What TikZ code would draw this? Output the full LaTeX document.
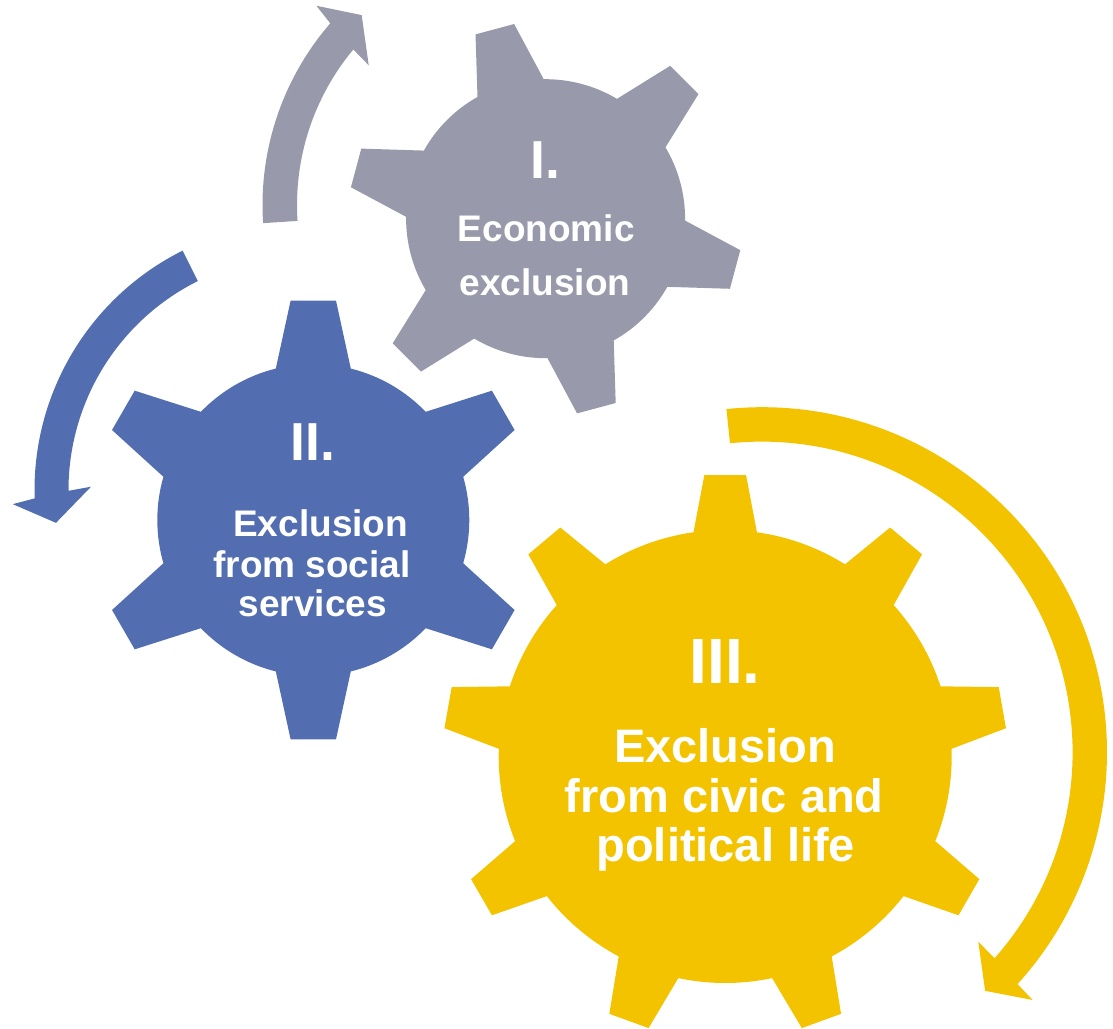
\documentclass[tikz,border=0pt]{standalone}
\usepackage{fontspec}
\setmainfont{Liberation Sans}
\definecolor{gearI}{RGB}{153,153,172}
\definecolor{gearII}{RGB}{82,110,176}
\definecolor{gearIII}{RGB}{243,195,0}
\tikzset{
  num/.style={text=white, inner sep=0pt, anchor=base, font=\bfseries\fontsize{#1}{#1}\selectfont},
  txt/.style={text=white, inner sep=0pt, anchor=base, font=\bfseries\fontsize{#1}{#1}\selectfont}
}
% #1 colour, #2 cx, #3 cy (pixels, y down), #4 teeth, #5 first tooth angle,
% #6 body radius, #7 tip corner radius, #8 tip half angle, #9 base half angle
\newcommand{\gearshape}[9]{%
  \begin{scope}[shift={(#2,-#3)}]
    \fill[#1] (#5-#9:#6)
      foreach \k [evaluate=\k as \t using #5+(\k-1)*360/#4] in {1,...,#4} {
        -- (\t-#8:#7) -- (\t+#8:#7) -- (\t+#9:#6)
        arc[start angle=\t+#9, end angle=\t+360/#4-#9, radius=#6]
      } -- cycle;
  \end{scope}}
\begin{document}
\begin{tikzpicture}[x=1pt,y=1pt]
\path[use as bounding box] (0,0) rectangle (1113,-1028);

% gears
\gearshape{gearI}{545.6}{218.7}{6}{105}{139.5}{197.2}{5.82}{14.23}
\gearshape{gearII}{313.3}{520}{6}{90}{156}{220.5}{5.91}{13.91}
\gearshape{gearIII}{725.2}{756.5}{9}{90}{226.5}{282.2}{4.24}{8.05}

% circular arrows
\begin{scope}[shift={(540,-205)}]
  \fill[gearI] (183.75:277.5) arc[start angle=183.75, end angle=139.1, radius=277.5]
    -- (138.3:299.5) -- (133.2:260.5) -- (140.8:221) -- (140.2:243)
    arc[start angle=140.2, end angle=183.75, radius=243] -- cycle;
\end{scope}
\begin{scope}[shift={(302,-490)}]
  \fill[gearII] (116.5:267.5) arc[start angle=116.5, end angle=181.8, radius=267.5]
    -- (182.8:289.6) -- (187.6:248.2) -- (179.1:211) -- (180.2:233.5)
    arc[start angle=180.2, end angle=116.5, radius=233.5] -- cycle;
\end{scope}
\begin{scope}[shift={(761.9,-752.3)}]
  \fill[gearIII] (95.9:345.1) arc[start angle=95.9, end angle=-42.2, radius=345.1]
    -- (-42.45:367) -- (-46.9:326.7) -- (-41.2:287.6) -- (-41.5:310.7)
    arc[start angle=-41.5, end angle=95.9, radius=310.7] -- cycle;
\end{scope}

% labels
\node[num=53.5] (n1) at (545.8,-178.3) {I.};
\node[txt=37] (t1a) at (546.3,-241.7) {Economic};
\node[txt=37] (t1b) at (545,-295) {exclusion};

\node[num=53.5] (n2) at (312.8,-460) {II.};
\node[txt=37] (t2a) at (320.7,-536) {Exclusion};
\node[txt=37] (t2b) at (312,-577.3) {from social};
\node[txt=37] (t2c) at (312.8,-616) {services};

\node[num=64] (n3) at (725.1,-683.7) {III.};
\node[txt=47] (t3a) at (725,-762.5) {Exclusion};
\node[txt=47] (t3b) at (724.3,-812.3) {from civic and};
\node[txt=47] (t3c) at (725.8,-861.7) {political life};
\end{tikzpicture}
\end{document}
